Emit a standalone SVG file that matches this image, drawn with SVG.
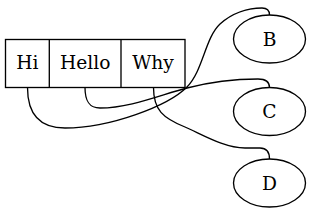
<svg xmlns="http://www.w3.org/2000/svg" width="311" height="213" viewBox="0 0 311 213">
<style>
.s{fill:none;stroke:#000;stroke-width:1.33}
.n{fill:#fff;stroke:#000;stroke-width:1.33}
text{font-family:"DejaVu Serif",serif;font-size:18.67px;text-anchor:middle;fill:#000}
</style>
<rect width="311" height="213" fill="#fff"/>
<g id="record">
<rect class="n" x="5.5" y="39.5" width="179.5" height="48"/>
<line class="s" x1="49.3" y1="39.5" x2="49.3" y2="87.5"/>
<line class="s" x1="121" y1="39.5" x2="121" y2="87.5"/>
<text x="27.4" y="68.5">Hi</text>
<text x="85.2" y="68.5">Hello</text>
<text x="153" y="68.5">Why</text>
</g>
<g id="B">
<ellipse class="n" cx="269.5" cy="39" rx="36" ry="24"/>
<text x="269.5" y="45.5">B</text>
</g>
<g id="C">
<ellipse class="n" cx="269.5" cy="111.5" rx="36" ry="24"/>
<text x="269.5" y="118">C</text>
</g>
<g id="D">
<ellipse class="n" cx="269.5" cy="183" rx="36" ry="24"/>
<text x="269.5" y="189.5">D</text>
</g>
<g id="edges">
<path class="s" d="M27.5,87.5 C27.5,115 40,128 65,128 C110,128 168,106 187,87 C203,71 205,38 220,24 C232,13 248,8 262,8 C267,8 269.5,10 269.5,15"/>
<path class="s" d="M85,87.5 C85,101 89,108 100,108 C130,108 160,95 187,88 C210,82 238,79 258,79 C265,79 269.5,82 269.5,87.5"/>
<path class="s" d="M153.5,87.5 C153.5,110 163,118 185,127 C205,136 225,148 245,148 L260,148 C266,148 269.5,151 269.5,159"/>
</g>
</svg>
